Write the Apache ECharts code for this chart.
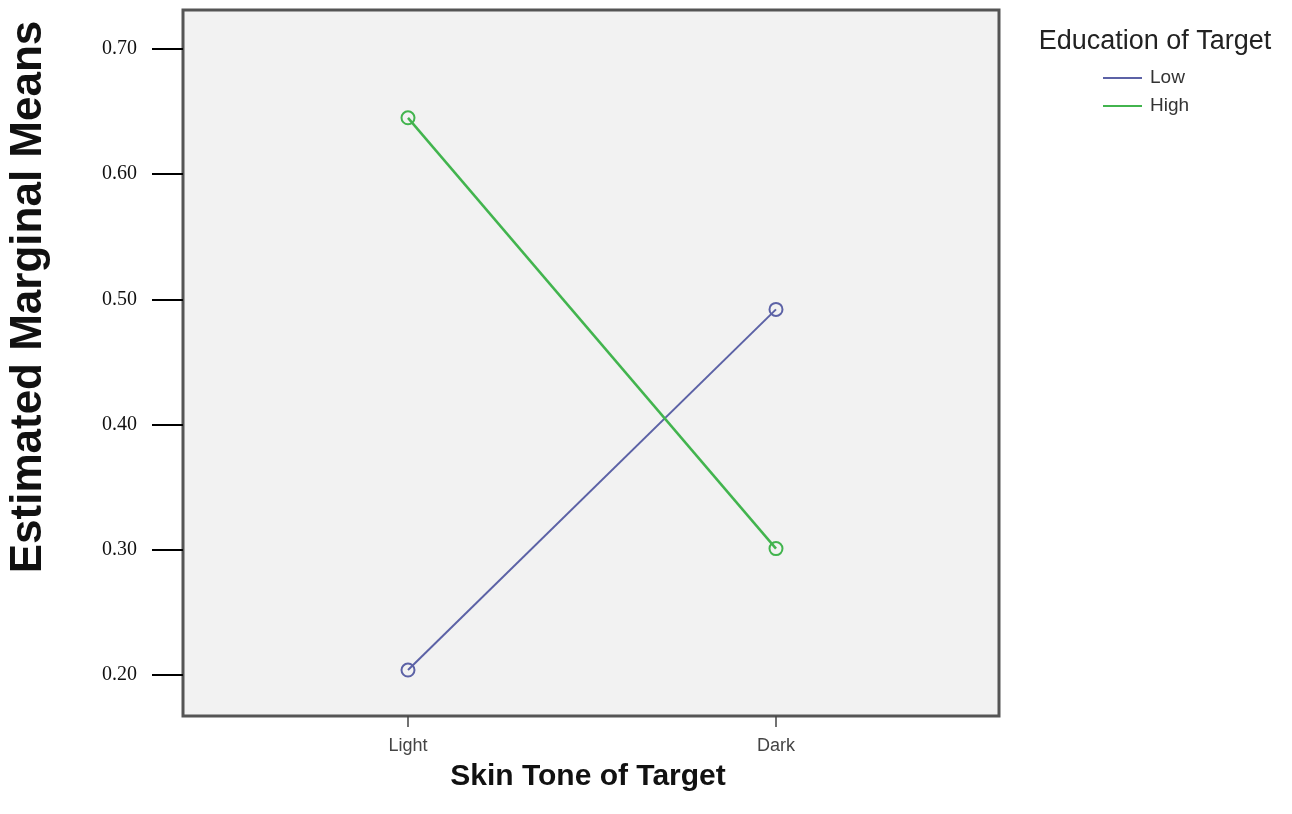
<!DOCTYPE html>
<html>
<head>
<meta charset="utf-8">
<script src="https://cdn.jsdelivr.net/npm/echarts@6/dist/echarts.min.js"></script>
<style>
html,body{margin:0;padding:0;background:#fff;}
#chart{width:1292px;height:814px;}
</style>
</head>
<body>
<div id="chart"></div>
<script>
const categories = ['Light', 'Dark'];
const seriesNames = ['Low', 'High'];
const lowValues = [0.204, 0.492];
const highValues = [0.645, 0.301];
const yTicks = [0.20, 0.30, 0.40, 0.50, 0.60, 0.70];
const xTicks = [0, 1];
const colors = ['#5c62a6', '#42b44e'];

const chart = echarts.init(document.getElementById('chart'));
const toData = vals => vals.map((v, i) => [i, v]);

const option = {
  backgroundColor: '#ffffff',
  animation: false,
  grid: {
    left: 183, right: 293, top: 10, bottom: 98,
    show: true, backgroundColor: '#f2f2f2', borderColor: '#555555', borderWidth: 3
  },
  xAxis: {
    type: 'value', min: -0.6114, max: 1.606,
    axisLine: { show: false, onZero: false },
    splitLine: { show: false },
    axisTick: { show: true, customValues: xTicks, length: 11, lineStyle: { color: '#444', width: 1.5 } },
    axisLabel: {
      customValues: xTicks, margin: 21,
      formatter: v => categories[Math.round(v)] || '',
      fontFamily: 'Liberation Sans, Arial, sans-serif', fontSize: 18, color: '#444'
    }
  },
  yAxis: {
    type: 'value', min: 0.1673, max: 0.7311,
    axisLine: { show: false, onZero: false },
    splitLine: { show: false },
    axisTick: { show: true, customValues: yTicks, length: 31, lineStyle: { color: '#000', width: 2 } },
    axisLabel: {
      customValues: yTicks, margin: 46,
      formatter: v => v.toFixed(2),
      fontFamily: 'Liberation Serif, Times New Roman, serif', fontSize: 20, color: '#111'
    }
  },
  legend: {
    orient: 'vertical', left: 1103, top: 68, padding: 0,
    icon: 'rect', itemWidth: 39, itemHeight: 2, itemGap: 8,
    textStyle: { fontFamily: 'Liberation Sans, Arial, sans-serif', fontSize: 19, color: '#333', lineHeight: 20, padding: [0, 0, 0, 3] },
    data: seriesNames.map((n, i) => ({ name: n, itemStyle: { color: colors[i], borderWidth: 0 } }))
  },
  graphic: [
    {
      type: 'text', x: 29, y: 297, rotation: Math.PI / 2,
      style: { text: 'Estimated Marginal Means', font: 'bold 44px "Liberation Sans", Arial, sans-serif', fill: '#111', align: 'center', verticalAlign: 'middle' }
    },
    {
      type: 'text', x: 588, y: 777,
      style: { text: 'Skin Tone of Target', font: 'bold 30px "Liberation Sans", Arial, sans-serif', fill: '#111', align: 'center', verticalAlign: 'middle' }
    },
    {
      type: 'text', x: 1155, y: 42,
      style: { text: 'Education of Target', font: '27px "Liberation Sans", Arial, sans-serif', fill: '#222', align: 'center', verticalAlign: 'middle' }
    }
  ],
  series: [
    {
      name: seriesNames[0], type: 'line', data: toData(lowValues),
      symbol: 'circle', symbolSize: 13,
      lineStyle: { color: colors[0], width: 2 },
      itemStyle: { color: 'rgba(0,0,0,0)', borderColor: colors[0], borderWidth: 2 }
    },
    {
      name: seriesNames[1], type: 'line', data: toData(highValues),
      symbol: 'circle', symbolSize: 13,
      lineStyle: { color: colors[1], width: 2.5 },
      itemStyle: { color: 'rgba(0,0,0,0)', borderColor: colors[1], borderWidth: 2 }
    }
  ]
};
chart.setOption(option);
</script>
</body>
</html>
